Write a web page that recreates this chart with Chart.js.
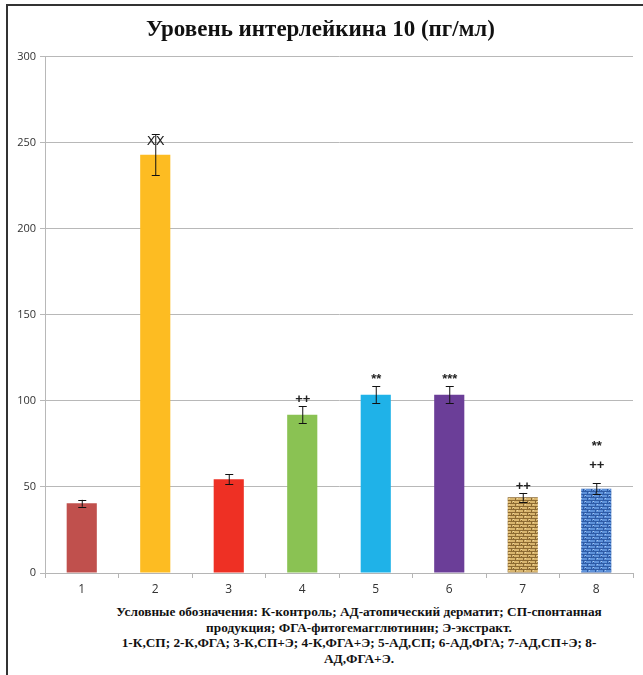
<!DOCTYPE html>
<html lang="ru">
<head>
<meta charset="UTF-8" />
<title>Уровень интерлейкина 10</title>
<style>
  body {
    margin: 0;
    background: #fff;
    width: 643px;
    height: 675px;
    overflow: hidden;
    position: relative;
  }
  .frame {
    position: absolute;
    left: 6px;
    top: 4px;
    width: 700px;
    height: 700px;
    border-top: 2px solid #333;
    border-left: 2px solid #333;
  }
  .chart-box {
    position: absolute;
    left: 8px;
    top: 6px;
    width: 630px;
    height: 592px;
  }
  .notes {
    position: absolute;
    left: 86px;
    top: 604px;
    width: 546px;
    text-align: center;
    font-family: 'Liberation Serif', 'Times New Roman', serif;
    font-weight: bold;
    font-size: 13.3px;
    line-height: 15.5px;
    color: #111;
  }
</style>
</head>
<body>
<div class="frame"></div>
<div class="chart-box"><canvas id="il10Chart"></canvas></div>
<div class="notes">
  Условные обозначения: К-контроль; АД-атопический дерматит; СП-спонтанная<br>
  продукция; ФГА-фитогемагглютинин; Э-экстракт.<br>
  1-К,СП; 2-К,ФГА; 3-К,СП+Э; 4-К,ФГА+Э; 5-АД,СП; 6-АД,ФГА; 7-АД,СП+Э; 8-<br>
  АД,ФГА+Э.
</div>

<script src="https://cdn.jsdelivr.net/npm/chart.js"></script>
<script>
  const categories = ['1', '2', '3', '4', '5', '6', '7', '8'];
  const values = [40.5, 243, 54.5, 92, 103.5, 103.5, 44, 49];
  const errors = [2, 12, 3, 5, 5, 5, 2.5, 3];
  const marks = [[], ['ХХ'], [], ['++'], ['**'], ['***'], ['++'], ['**', '++']];
  const yTicks = [0, 50, 100, 150, 200, 250, 300];

  // small repeating textures for the last two bars
  function makePattern(base, dark, light) {
    const c = document.createElement('canvas');
    c.width = 8; c.height = 6;
    const g = c.getContext('2d');
    g.fillStyle = base;
    g.fillRect(0, 0, 8, 6);
    g.fillStyle = dark;
    g.fillRect(0, 2, 8, 1);
    g.fillRect(0, 5, 8, 1);
    g.fillRect(3, 0, 1, 2);
    g.fillRect(7, 3, 1, 2);
    g.fillRect(1, 4, 1, 1);
    g.fillStyle = light;
    g.fillRect(5, 0, 1, 1);
    g.fillRect(1, 3, 1, 1);
    return g.createPattern(c, 'repeat');
  }

  const barColors = [
    '#C0504D', '#FDBC22', '#EE3024', '#8AC253', '#1FB2E8', '#6B3E98',
    makePattern('#D8B56E', '#8C6A32', '#F0D9A0'),
    makePattern('#5E92DA', '#2E5BA6', '#A9C8F0')
  ];

  const errorBars = {
    id: 'errorBars',
    afterDatasetsDraw(chart) {
      const { ctx, scales: { y } } = chart;
      const meta = chart.getDatasetMeta(0);
      ctx.save();
      meta.data.forEach((bar, i) => {
        const x = bar.x;
        const top = y.getPixelForValue(values[i] + errors[i]);
        const bot = y.getPixelForValue(values[i] - errors[i]);
        ctx.strokeStyle = '#111';
        ctx.lineWidth = 1;
        ctx.beginPath();
        ctx.moveTo(x + 0.5, top); ctx.lineTo(x + 0.5, bot);
        ctx.moveTo(x - 3.5, Math.round(top) + 0.5); ctx.lineTo(x + 4.5, Math.round(top) + 0.5);
        ctx.moveTo(x - 3.5, Math.round(bot) + 0.5); ctx.lineTo(x + 4.5, Math.round(bot) + 0.5);
        ctx.stroke();

        // significance marks above the error bar
        const m = marks[i];
        if (!m.length) return;
        ctx.fillStyle = '#222';
        ctx.font = 'bold 13px "Liberation Sans", Arial, sans-serif';
        ctx.textAlign = 'center';
        ctx.textBaseline = 'middle';
        if (m[0] === 'ХХ') {
          ctx.font = '13px "DejaVu Sans", sans-serif';
          ctx.fillText(m[0], x + 0.5, top + 8);
          return;
        }
        const lift = m.length > 1 ? 18 : 7;
        for (let k = 0; k < m.length; k++) {
          const row = m.length - 1 - k;
          ctx.fillText(m[k], x + 0.5, top - lift - row * 19);
        }
      });
      ctx.restore();
    }
  };

  const ctx = document.getElementById('il10Chart').getContext('2d');
  new Chart(ctx, {
    type: 'bar',
    data: {
      labels: categories,
      datasets: [{
        data: values,
        backgroundColor: barColors,
        borderWidth: 0,
        barPercentage: 0.41,
        categoryPercentage: 1
      }]
    },
    options: {
      responsive: true,
      maintainAspectRatio: false,
      animation: false,
      layout: { padding: { left: 0, right: 5, top: 0, bottom: 0 } },
      plugins: {
        legend: { display: false },
        tooltip: { enabled: false },
        title: {
          display: true,
          text: 'Уровень интерлейкина 10 (пг/мл)',
          color: '#111',
          font: { family: "'Liberation Serif', 'Times New Roman', serif", size: 23, weight: 'bold' },
          padding: { top: 10, bottom: 13 }
        }
      },
      scales: {
        x: {
          grid: { drawOnChartArea: false, drawTicks: true, tickLength: 5, color: '#b5b5b5' },
          border: { color: '#b5b5b5' },
          ticks: {
            color: '#333',
            padding: 4,
            font: { family: "'Open Sans', 'DejaVu Sans', sans-serif", size: 12 }
          },
          afterFit(scale) { scale.height = 25; }
        },
        y: {
          min: 0,
          max: 300,
          afterBuildTicks(scale) { scale.ticks = yTicks.map(v => ({ value: v })); },
          grid: { color: '#b8b8b8', tickLength: 5 },
          border: { color: '#b8b8b8' },
          ticks: {
            color: '#333',
            padding: 4,
            font: { family: "'Open Sans', 'DejaVu Sans', sans-serif", size: 11 }
          },
          afterFit(scale) { scale.width = 37; }
        }
      }
    },
    plugins: [errorBars]
  });
</script>
</body>
</html>
